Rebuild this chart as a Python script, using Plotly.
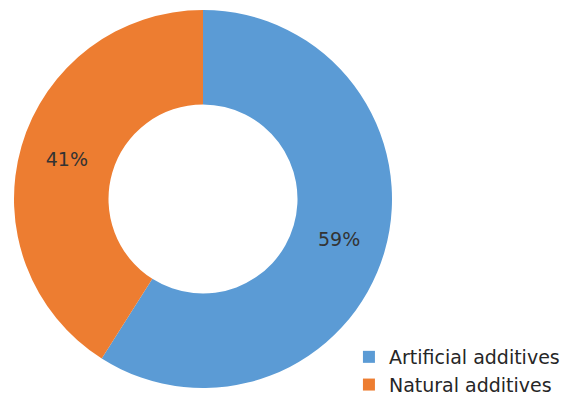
import plotly.graph_objects as go

labels = ["Artificial additives", "Natural additives"]
values = [59, 41]
colors = ["#5B9BD5", "#ED7D31"]

fig = go.Figure(go.Pie(
    labels=labels, values=values, hole=0.5, sort=False, direction="clockwise",
    rotation=0, marker=dict(colors=colors, line=dict(width=0)),
    textinfo="percent", textposition="inside", insidetextorientation="horizontal",
    textfont=dict(size=19, color="#333333", family="DejaVu Sans"),
    domain=dict(x=[6/573, 384/573], y=[16/396, 394/396]),
    texttemplate="%{percent:.0%}",
))
fig.update_layout(
    width=573, height=396, margin=dict(l=0, r=0, t=0, b=0),
    paper_bgcolor="white", plot_bgcolor="white",
    showlegend=True,
    legend=dict(x=0.595, y=0.0, xanchor="left", yanchor="bottom",
                font=dict(size=19, color="#262626", family="DejaVu Sans"),
                itemsizing="constant", tracegroupgap=0, itemwidth=30),
)
fig.write_html("out.html")
